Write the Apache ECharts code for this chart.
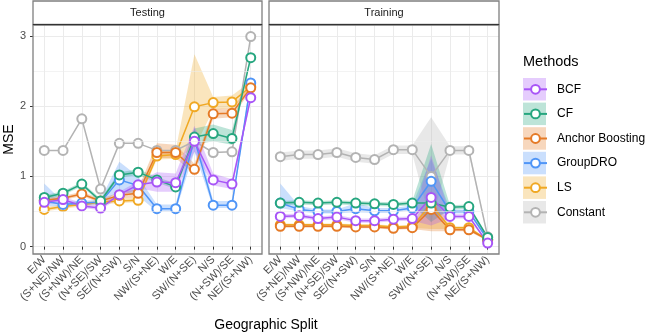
<!DOCTYPE html>
<html>
<head>
<meta charset="utf-8">
<script src="https://cdn.jsdelivr.net/npm/echarts@6/dist/echarts.min.js"></script>
<style>
html,body{margin:0;padding:0;background:#fff;}
#main{width:646px;height:335px;}
</style>
</head>
<body>
<div id="main"></div>
<script>
var splits = ['E/W', '(S+NE)/NW', '(S+NW)/NE', '(N+SE)/SW', 'SE/(N+SW)', 'S/N',
	'NW/(S+NE)', 'W/E', 'SW/(N+SE)', 'N/S', '(N+SW)/SE', 'NE/(S+NW)'];
var methods = ['BCF', 'CF', 'Anchor Boosting', 'GroupDRO', 'LS', 'Constant'];
var methodColors = ['#a855f7', '#26a67f', '#e57a26', '#4f95f7', '#f0a823', '#b3b3b3'];
var panels = ['Testing', 'Training'];
var yTicks = [0, 1, 2, 3];
var yMinor = [0.5, 1.5, 2.5];

// Testing
var testBCF   = [0.63, 0.67, 0.58, 0.55, 0.74, 0.88, 0.92, 0.91, 1.50, 0.95, 0.89, 2.12];
var testBCFLo = [0.60, 0.63, 0.55, 0.52, 0.70, 0.83, 0.78, 0.78, 1.35, 0.87, 0.82, 2.08];
var testBCFHi = [0.66, 0.71, 0.62, 0.58, 0.78, 0.93, 1.06, 1.04, 1.72, 1.04, 0.96, 2.18];
var testCF    = [0.70, 0.76, 0.89, 0.65, 1.02, 1.06, 0.95, 0.85, 1.56, 1.61, 1.54, 2.69];
var testCFLo  = [0.67, 0.73, 0.86, 0.62, 0.98, 1.02, 0.91, 0.82, 1.45, 1.50, 1.45, 2.66];
var testCFHi  = [0.73, 0.79, 0.92, 0.68, 1.06, 1.10, 0.99, 0.90, 1.68, 1.74, 1.66, 2.73];
var testAB    = [0.66, 0.69, 0.75, 0.65, 0.73, 0.76, 1.34, 1.34, 1.10, 1.89, 1.90, 2.26];
var testABLo  = [0.63, 0.66, 0.72, 0.62, 0.69, 0.70, 1.26, 1.26, 1.03, 1.82, 1.84, 2.22];
var testABHi  = [0.69, 0.72, 0.78, 0.68, 0.77, 0.82, 1.47, 1.45, 1.18, 1.96, 1.97, 2.31];
var testDRO   = [0.65, 0.60, 0.62, 0.63, 0.95, 0.87, 0.54, 0.54, 1.53, 0.59, 0.59, 2.33];
var testDROLo = [0.58, 0.57, 0.59, 0.60, 0.80, 0.72, 0.50, 0.50, 1.35, 0.55, 0.55, 2.25];
var testDROHi = [0.90, 0.64, 0.65, 0.67, 1.21, 1.00, 0.60, 0.60, 1.70, 0.65, 0.65, 2.40];
var testLS    = [0.53, 0.57, 0.60, 0.63, 0.65, 0.66, 1.29, 1.31, 1.99, 2.05, 2.06, 2.28];
var testLSLo  = [0.50, 0.54, 0.57, 0.60, 0.62, 0.63, 1.24, 1.25, 1.40, 1.95, 1.97, 2.22];
var testLSHi  = [0.56, 0.60, 0.63, 0.66, 0.69, 0.70, 1.35, 1.37, 2.74, 2.13, 2.15, 2.35];
var testConst = [1.37, 1.37, 1.82, 0.82, 1.47, 1.47, 1.37, 1.37, 1.50, 1.34, 1.35, 2.99];

// Training
var trainBCF   = [0.43, 0.44, 0.40, 0.42, 0.37, 0.37, 0.39, 0.40, 0.70, 0.43, 0.43, 0.05];
var trainBCFLo = [0.40, 0.41, 0.37, 0.39, 0.34, 0.34, 0.36, 0.37, 0.30, 0.40, 0.40, 0.03];
var trainBCFHi = [0.46, 0.47, 0.43, 0.45, 0.40, 0.40, 0.42, 0.43, 1.30, 0.46, 0.46, 0.07];
var trainCF    = [0.62, 0.63, 0.62, 0.63, 0.62, 0.61, 0.60, 0.62, 0.62, 0.56, 0.57, 0.13];
var trainCFLo  = [0.59, 0.60, 0.59, 0.60, 0.59, 0.58, 0.57, 0.59, 0.35, 0.53, 0.54, 0.11];
var trainCFHi  = [0.65, 0.66, 0.65, 0.66, 0.65, 0.64, 0.63, 0.65, 1.46, 0.59, 0.60, 0.15];
var trainAB    = [0.29, 0.29, 0.29, 0.29, 0.28, 0.28, 0.26, 0.27, 0.53, 0.24, 0.24, 0.10];
var trainABLo  = [0.27, 0.27, 0.27, 0.27, 0.26, 0.26, 0.24, 0.25, 0.22, 0.22, 0.22, 0.08];
var trainABHi  = [0.31, 0.31, 0.31, 0.31, 0.30, 0.30, 0.28, 0.29, 0.66, 0.26, 0.26, 0.12];
var trainDRO   = [0.62, 0.53, 0.50, 0.50, 0.54, 0.51, 0.51, 0.55, 0.93, 0.50, 0.50, 0.10];
var trainDROLo = [0.55, 0.50, 0.47, 0.47, 0.49, 0.48, 0.48, 0.52, 0.45, 0.47, 0.47, 0.08];
var trainDROHi = [0.90, 0.58, 0.53, 0.53, 0.62, 0.55, 0.55, 0.59, 1.25, 0.53, 0.53, 0.12];
var trainLS    = [0.31, 0.31, 0.31, 0.31, 0.30, 0.30, 0.28, 0.29, 0.60, 0.27, 0.27, 0.09];
var trainLSLo  = [0.29, 0.29, 0.29, 0.29, 0.28, 0.28, 0.26, 0.27, 0.25, 0.25, 0.25, 0.07];
var trainLSHi  = [0.33, 0.33, 0.33, 0.33, 0.32, 0.32, 0.30, 0.31, 0.80, 0.29, 0.29, 0.11];
var trainConst   = [1.28, 1.31, 1.31, 1.34, 1.27, 1.24, 1.38, 1.38, 1.00, 1.37, 1.37, 0.14];
var trainConstLo = [1.22, 1.25, 1.25, 1.28, 1.21, 1.18, 1.32, 1.32, 0.33, 1.31, 1.31, 0.12];
var trainConstHi = [1.34, 1.37, 1.37, 1.40, 1.33, 1.30, 1.44, 1.44, 1.84, 1.43, 1.43, 0.16];

// per panel, in method order: [mean, lo, hi]
var panelData = [
	[
		[testBCF, testBCFLo, testBCFHi],
		[testCF, testCFLo, testCFHi],
		[testAB, testABLo, testABHi],
		[testDRO, testDROLo, testDROHi],
		[testLS, testLSLo, testLSHi],
		[testConst, testConst, testConst]
	],
	[
		[trainBCF, trainBCFLo, trainBCFHi],
		[trainCF, trainCFLo, trainCFHi],
		[trainAB, trainABLo, trainABHi],
		[trainDRO, trainDROLo, trainDROHi],
		[trainLS, trainLSLo, trainLSHi],
		[trainConst, trainConstLo, trainConstHi]
	]
];

var xTicks = splits.map(function (s, i) { return i + 1; });

var grids = [
	{ left: 33, top: 25, width: 229, height: 229 },
	{ left: 269, top: 25, width: 230, height: 229 }
];

function bandSeries(gi, name, color, lo, hi) {
	return {
		type: 'custom',
		name: name + ' band',
		xAxisIndex: gi,
		yAxisIndex: gi,
		silent: true,
		z: 1,
		data: lo.map(function (v, i) { return [i + 1, v, hi[i]]; }),
		encode: { x: 0, y: [1, 2] },
		renderItem: function (params, api) {
			if (params.dataIndex !== 0) return;
			var pts = [];
			for (var i = 0; i < hi.length; i++) pts.push(api.coord([i + 1, hi[i]]));
			for (var j = lo.length - 1; j >= 0; j--) pts.push(api.coord([j + 1, lo[j]]));
			return {
				type: 'polygon',
				shape: { points: pts },
				style: { fill: color, opacity: 0.3 }
			};
		}
	};
}

function lineSeries(gi, name, color, vals) {
	return {
		type: 'line',
		name: name,
		xAxisIndex: gi,
		yAxisIndex: gi,
		z: 2,
		data: vals.map(function (v, i) { return [i + 1, v]; }),
		symbol: 'emptyCircle',
		symbolSize: 9,
		color: color,
		lineStyle: { width: 1.5, color: color },
		itemStyle: { color: color, borderWidth: 1.5 },
		emphasis: { disabled: true }
	};
}

var series = [];
var xAxes = [];
var yAxes = [];
var graphics = [];

for (var g = 0; g < 2; g++) {
	xAxes.push({
		type: 'value',
		gridIndex: g,
		min: 0.4,
		max: 12.6,
		axisLine: { show: false },
		axisTick: { show: true, length: 3, customValues: xTicks, lineStyle: { color: '#333', width: 1 } },
		axisLabel: {
			customValues: xTicks,
			rotate: 45,
			fontSize: 11,
			color: '#4d4d4d',
			margin: 4,
			fontFamily: 'Liberation Sans, Arial, sans-serif',
			formatter: function (v) { return splits[Math.round(v) - 1]; }
		},
		splitLine: { show: true, lineStyle: { color: '#ebebeb', width: 1 } }
	});
	yAxes.push({
		type: 'value',
		gridIndex: g,
		min: -0.105,
		max: 3.155,
		name: g === 0 ? 'MSE' : '',
		nameLocation: 'middle',
		nameGap: 17,
		nameTextStyle: { fontSize: 14, color: '#000', fontFamily: 'Liberation Sans, Arial, sans-serif' },
		axisLine: { show: false },
		axisTick: { show: g === 0, length: 3, customValues: yTicks, lineStyle: { color: '#333', width: 1 } },
		axisLabel: {
			show: g === 0,
			customValues: yTicks,
			fontSize: 11,
			color: '#4d4d4d',
			margin: 7,
			fontFamily: 'Liberation Sans, Arial, sans-serif'
		},
		splitLine: { show: true, lineStyle: { color: '#ebebeb', width: 1 } }
	});

	// minor grid lines
	series.push({
		type: 'line',
		name: 'minor' + g,
		xAxisIndex: g,
		yAxisIndex: g,
		data: [],
		z: 0,
		silent: true,
		markLine: {
			silent: true,
			symbol: 'none',
			label: { show: false },
			lineStyle: { color: '#ebebeb', width: 0.6, type: 'solid' },
			data: yMinor.map(function (v) { return { yAxis: v }; })
		}
	});

	// bands first, then lines; Constant drawn lowest, BCF on top
	for (var m = methods.length - 1; m >= 0; m--) {
		var d = panelData[g][m];
		series.push(bandSeries(g, methods[m], methodColors[m], d[1], d[2]));
	}
	for (var k = methods.length - 1; k >= 0; k--) {
		series.push(lineSeries(g, methods[k], methodColors[k], panelData[g][k][0]));
	}

	var gb = grids[g];
	// panel border
	graphics.push({
		type: 'rect',
		z: 100,
		shape: { x: gb.left, y: gb.top, width: gb.width, height: gb.height },
		style: { fill: 'none', stroke: '#7f7f7f', lineWidth: 1.3 }
	});
	// strip
	graphics.push({
		type: 'rect',
		z: 100,
		shape: { x: gb.left, y: 1, width: gb.width, height: 23.5 },
		style: { fill: '#fff', stroke: '#7f7f7f', lineWidth: 1.3 }
	});
	graphics.push({
		type: 'line',
		z: 101,
		shape: { x1: gb.left, y1: 24.5, x2: gb.left + gb.width, y2: 24.5 },
		style: { stroke: '#333', lineWidth: 1.2 }
	});
	graphics.push({
		type: 'text',
		z: 102,
		x: gb.left + gb.width / 2,
		y: 12.5,
		style: {
			text: panels[g],
			fill: '#1a1a1a',
			font: '11px Liberation Sans, Arial, sans-serif',
			align: 'center',
			verticalAlign: 'middle'
		}
	});
}

// x title across both panels
graphics.push({
	type: 'text',
	x: 266,
	y: 325,
	style: {
		text: 'Geographic Split',
		fill: '#000',
		font: '14px Liberation Sans, Arial, sans-serif',
		align: 'center',
		verticalAlign: 'middle'
	}
});

// legend title and key backgrounds
graphics.push({
	type: 'text',
	x: 523,
	y: 62,
	style: {
		text: 'Methods',
		fill: '#000',
		font: '14.5px Liberation Sans, Arial, sans-serif',
		align: 'left',
		verticalAlign: 'middle'
	}
});
for (var li = 0; li < methods.length; li++) {
	graphics.push({
		type: 'rect',
		z: 0,
		shape: { x: 523, y: 78 + li * 24.6, width: 23, height: 22.5 },
		style: { fill: methodColors[li], opacity: 0.3 }
	});
}

var option = {
	animation: false,
	backgroundColor: '#fff',
	grid: grids,
	xAxis: xAxes,
	yAxis: yAxes,
	legend: {
		data: methods,
		orient: 'vertical',
		left: 523,
		top: 82.3,
		padding: 0,
		itemWidth: 23,
		itemHeight: 11,
		itemGap: 10.6,
		selectedMode: false,
		textStyle: {
			fontSize: 12,
			lineHeight: 14,
			color: '#000',
			padding: [0, 0, 0, 5],
			fontFamily: 'Liberation Sans, Arial, sans-serif'
		}
	},
	graphic: graphics,
	series: series
};

var myChart = echarts.init(document.getElementById('main'));
myChart.setOption(option);
</script>
</body>
</html>
